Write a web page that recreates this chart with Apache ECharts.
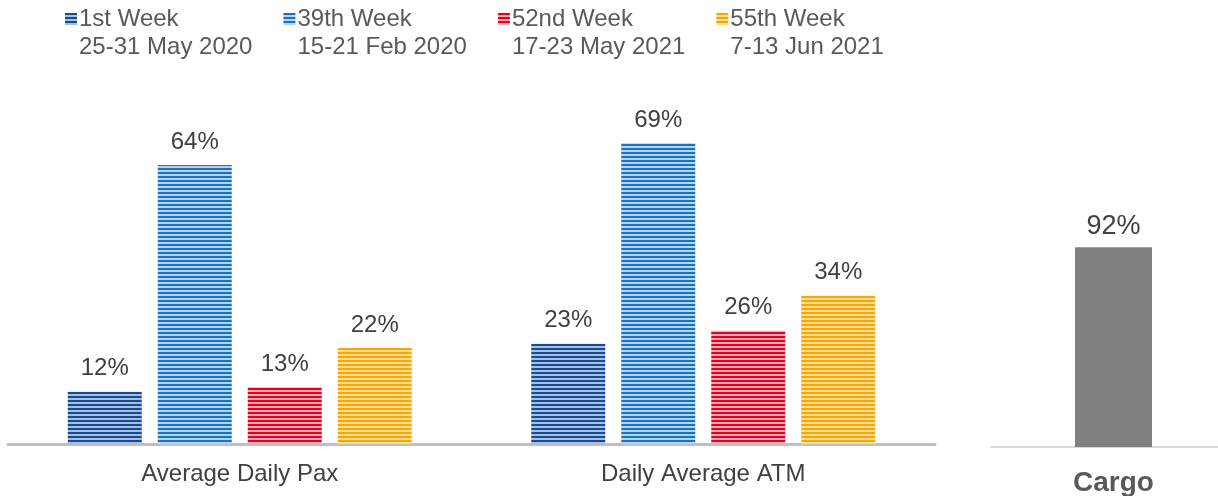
<!DOCTYPE html>
<html>
<head>
<meta charset="utf-8">
<script src="https://cdn.jsdelivr.net/npm/echarts@6/dist/echarts.min.js"></script>
<style>
  html, body { margin: 0; padding: 0; background: #fff; }
  #main { width: 1218px; height: 496px; }
</style>
</head>
<body>
<div id="main"></div>
<script>
// data
var categories = ['Average Daily Pax', 'Daily Average ATM'];
var seriesNames = ['1st Week', '39th Week', '52nd Week', '55th Week'];
var seriesDates = ['25-31 May 2020', '15-21 Feb 2020', '17-23 May 2021', '7-13 Jun 2021'];
var week1 = [12, 23];
var week39 = [64, 69];
var week52 = [13, 26];
var week55 = [22, 34];
var cargoCategories = ['Cargo'];
var cargoValues = [92];

// stripe colours: [dark, light]
var stripeColors = [
  ['#1d4a88', '#9fc0e8'],
  ['#1a72c4', '#b3d5f3'],
  ['#e5001e', '#f7aab3'],
  ['#f6a800', '#fcdc96']
];

function makeStripe(dark, light) {
  var c = document.createElement('canvas');
  c.width = 4; c.height = 4;
  var ctx = c.getContext('2d');
  ctx.fillStyle = light;
  ctx.fillRect(0, 0, 4, 4);
  ctx.fillStyle = dark;
  ctx.fillRect(0, 0, 4, 2);
  return { image: c, repeat: 'repeat' };
}

var FONT = 'Liberation Sans, Arial, sans-serif';
var seriesData = [week1, week39, week52, week55];
var chart = echarts.init(document.getElementById('main'));

var series = seriesData.map(function (d, i) {
  return {
    name: seriesNames[i],
    type: 'bar',
    xAxisIndex: 0,
    yAxisIndex: 0,
    data: d,
    barWidth: 74,
    barGap: '21.6%',
    itemStyle: { color: makeStripe(stripeColors[i][0], stripeColors[i][1]) },
    label: {
      show: true,
      position: 'top',
      distance: 11,
      formatter: '{c}%',
      color: '#404040',
      fontSize: 24,
      fontFamily: FONT
    }
  };
});

series.push({
  name: 'Cargo',
  type: 'bar',
  xAxisIndex: 1,
  yAxisIndex: 1,
  data: cargoValues,
  barWidth: 77,
  itemStyle: { color: '#808080' },
  label: {
    show: true,
    position: 'top',
    distance: 7,
    formatter: '{c}%',
    color: '#404040',
    fontSize: 27,
    fontFamily: FONT
  }
});

// icon square on top, with an invisible point below to keep it aligned with the first text line
var legendIcon = 'path://M0,0L12,0L12,12L0,12Z M0,40L0.01,40L0,40.01Z';

var option = {
  animation: false,
  legend: {
    data: seriesNames,
    left: 60,
    top: 0,
    itemWidth: 12,
    itemHeight: 40,
    itemGap: 31,
    icon: legendIcon,
    formatter: function (name) {
      return name + '\n' + seriesDates[seriesNames.indexOf(name)];
    },
    textStyle: {
      color: '#595959',
      fontSize: 24,
      lineHeight: 28,
      fontFamily: FONT,
      padding: [0, 0, 0, -3]
    },
    selectedMode: false
  },
  grid: [
    { left: 8, right: 283, top: 8, bottom: 52 },
    { left: 991, width: 245, top: 230, bottom: 49, outerBoundsMode: 'none', containLabel: false }
  ],
  xAxis: [
    {
      type: 'category',
      gridIndex: 0,
      data: categories,
      axisLine: { lineStyle: { color: '#bfbfbf', width: 3 } },
      axisTick: { show: false },
      axisLabel: {
        color: '#404040',
        fontSize: 24,
        margin: 18,
        fontFamily: FONT
      }
    },
    {
      type: 'category',
      gridIndex: 1,
      data: cargoCategories,
      axisLine: { lineStyle: { color: '#d9d9d9', width: 2 } },
      axisTick: { show: false },
      axisLabel: {
        color: '#595959',
        fontSize: 28,
        fontWeight: 'bold',
        margin: 22,
        fontFamily: FONT
      }
    }
  ],
  yAxis: [
    { type: 'value', gridIndex: 0, min: 0, max: 100, show: false },
    { type: 'value', gridIndex: 1, min: 0, max: 100, show: false }
  ],
  series: series
};

chart.setOption(option);
</script>
</body>
</html>
